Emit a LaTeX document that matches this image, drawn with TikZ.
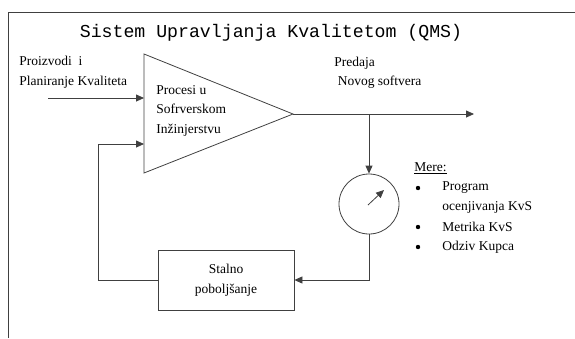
\documentclass[tikz,border=0pt]{standalone}
\usepackage{fontspec}
\setmainfont{Liberation Serif}
\newfontfamily\titlefont{Liberation Mono}
\usetikzlibrary{arrows.meta, positioning, calc}

\definecolor{linegray}{RGB}{64,64,64}

\begin{document}
\begin{tikzpicture}[x=1pt, y=-1pt, >={Triangle[length=8pt, width=7pt]}, line width=0.8pt,
    every node/.style={font=\fontsize{13.5}{19.5}\selectfont, inner sep=0pt},
    conn/.style={draw=linegray, ->}]
    \useasboundingbox (0,0) rectangle (575,338);

    % Frame
    \draw[linegray] (8,338) -- (8,12) -- (575,12);

    % Title
    \node[font=\titlefont\fontsize{18.2}{20}\selectfont] (title) at (271,33) {Sistem Upravljanja Kvalitetom (QMS)};

    % Process triangle
    \coordinate (tritop) at (144,54);
    \coordinate (apex) at (293,114);
    \coordinate (tribot) at (144,173);
    \draw[linegray] (tritop) -- (apex) -- (tribot) -- cycle;
    \node[align=left, anchor=north west] (proc) at (156,85) {Procesi u\\Sofrverskom\\Inžinjerstvu};

    % Input and output
    \node[align=left, anchor=west] (input) at (19,72) {Proizvodi\ \ i\\Planiranje Kvaliteta};
    \coordinate (instart) at (48,98);
    \coordinate (inend) at (144,98);
    \node[align=left, anchor=west] (deliv) at (334,73) {Predaja\\\ Novog softvera};
    \coordinate (split) at (369,114);
    \coordinate (outend) at (474,114);

    % Meter and improvement
    \node[circle, draw=linegray, minimum size=60pt] (meter) at (369,204) {};
    \coordinate (needle) at (384,190);
    \node[draw=linegray, minimum width=136pt, minimum height=60pt, align=center] (improve) at (226,280) {Stalno\\poboljšanje};
    \coordinate (fbcorner) at (98,144);
    \coordinate (fbend) at (144,144);

    % Measures
    \node[anchor=west] (mere) at (414,168) {\underline{Mere:}};
    \foreach \y/\txt [count=\i] in {188/Program, 227/Metrika KvS, 247/Odziv Kupca} {
        \node[anchor=west] (item\i) at (442,\y) {\txt};
        \fill (418,\y) circle (2.2pt);
    }
    \node[anchor=west] (item1b) at (442,207) {ocenjivanja KvS};

    % Connectors
    \draw[conn] (instart) -- (inend);
    \draw[conn] (apex) -- (outend);
    \draw[conn] (split) -- (meter.north);
    \draw[conn] ($(meter.center)+(-1,1)$) -- (needle);
    \draw[conn] (meter.south) |- (improve.east);
    \draw[conn] (improve.west) -| (fbcorner) -- (fbend);
\end{tikzpicture}
\end{document}
